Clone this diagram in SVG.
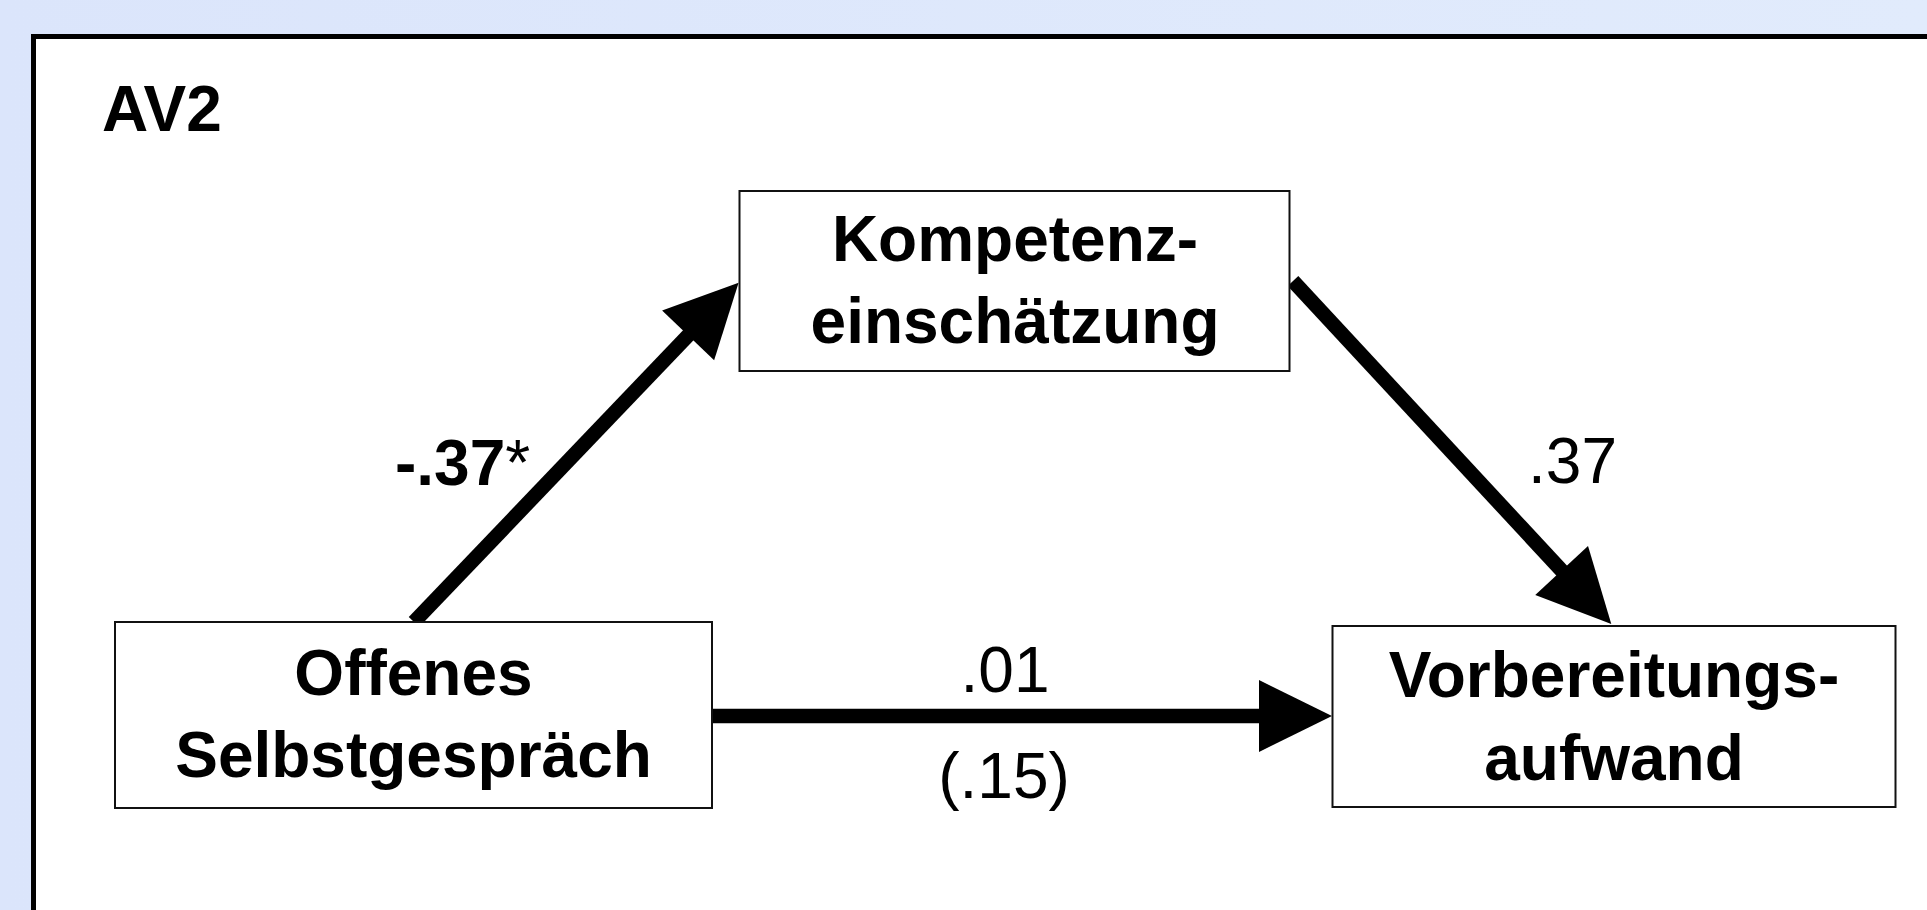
<svg xmlns="http://www.w3.org/2000/svg" width="1927" height="910" viewBox="0 0 1927 910">
  <defs>
    <linearGradient id="bg" x1="0" y1="0" x2="1" y2="0">
      <stop offset="0" stop-color="#dbe5fb"/>
      <stop offset="1" stop-color="#e1ebfc"/>
    </linearGradient>
    <marker id="head" markerUnits="userSpaceOnUse" viewBox="0 0 73 72" markerWidth="73" markerHeight="72" refX="2" refY="36" orient="auto" overflow="visible">
      <path d="M0,0 L73,36 L0,72 Z" fill="#000"/>
    </marker>
    <style>
      .node rect { fill: #fff; stroke: #111; stroke-width: 2; }
      .node text { font-family: "Liberation Sans", Arial, sans-serif; font-weight: bold; font-size: 64px; fill: #000; text-anchor: middle; }
      .edge { fill: none; stroke: #000; stroke-width: 14.5; stroke-linecap: butt; marker-end: url(#head); }
      .lbl { font-family: "Liberation Sans", Arial, sans-serif; font-size: 64px; fill: #000; }
      .bold { font-weight: bold; }
      .plain { font-weight: normal; }
    </style>
  </defs>

  <!-- page background and framed panel -->
  <rect x="0" y="0" width="1927" height="910" fill="url(#bg)"/>
  <rect x="33.5" y="36.5" width="1920" height="900" fill="#fff" stroke="#000" stroke-width="5"/>

  <text class="lbl bold" x="102" y="131">AV2</text>

  <!-- paths between variables -->
  <g id="connectors">
    <path class="edge" d="M414,622 L689.5,334"/>
    <path class="edge" d="M1293,281 L1563,572"/>
    <path class="edge" d="M712,716 L1261,716"/>
    <text class="lbl bold" x="395" y="485">-.37<tspan class="plain">*</tspan></text>
    <text class="lbl" x="1528" y="483">.37</text>
    <text class="lbl" x="1005" y="692" text-anchor="middle">.01</text>
    <text class="lbl" x="1004" y="798" text-anchor="middle">(.15)</text>
  </g>

  <g id="node-kompetenz" class="node">
    <rect x="739.5" y="191" width="550" height="180"/>
    <text x="1015" y="261">Kompetenz-</text>
    <text x="1015" y="343">einschätzung</text>
  </g>

  <g id="node-offenes" class="node">
    <rect x="115" y="622" width="597" height="186"/>
    <text x="413.5" y="695">Offenes</text>
    <text x="413.5" y="777">Selbstgespräch</text>
  </g>

  <g id="node-vorbereitung" class="node">
    <rect x="1332.5" y="626" width="563" height="181"/>
    <text x="1614" y="697">Vorbereitungs-</text>
    <text x="1614" y="780">aufwand</text>
  </g>
</svg>
